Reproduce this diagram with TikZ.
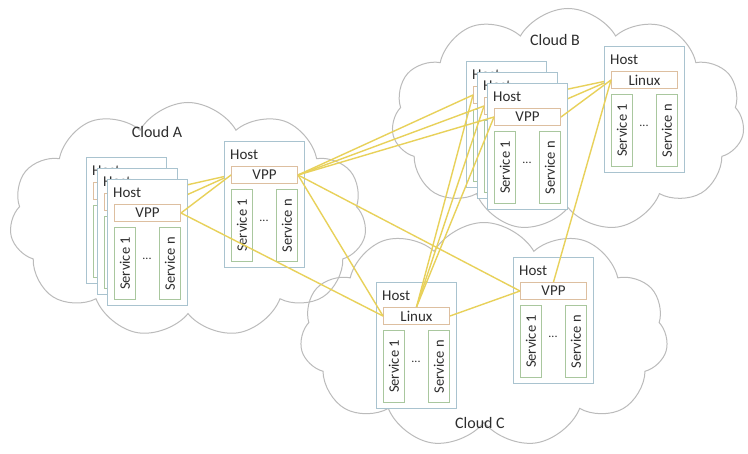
\documentclass[tikz,border=0pt]{standalone}
\usepackage{fontspec}
\setmainfont{Carlito}
\usetikzlibrary{shapes.symbols,calc}
\pgfdeclarelayer{cloudlayer}
\pgfdeclarelayer{linelayer}
\pgfsetlayers{cloudlayer,linelayer,main}
\definecolor{hostc}{HTML}{A9C3CF}
\definecolor{vppc}{HTML}{DDBFA0}
\definecolor{svcc}{HTML}{A9C79E}
\definecolor{linkc}{HTML}{E8D15A}
\definecolor{cloudc}{HTML}{BBBBBB}
\definecolor{txtc}{HTML}{2E2E2E}
\tikzset{
 hostbox/.style={draw=hostc, line width=1.2pt, fill=white, minimum width=80pt, minimum height=126pt, inner sep=0pt, anchor=north west},
 ifbox/.style={draw=vppc, line width=1pt, fill=white, minimum width=66pt, minimum height=17pt, inner sep=0pt, anchor=north west, font=\fontsize{15}{15}\selectfont, text=txtc},
 svcbox/.style={draw=svcc, line width=1pt, fill=white, minimum width=21pt, minimum height=72pt, inner sep=0pt, anchor=north west},
 svctext/.style={rotate=90, font=\fontsize{14.5}{14.5}\selectfont, text=txtc, inner sep=0pt},
 hostlabel/.style={anchor=west, font=\fontsize{15}{15}\selectfont, text=txtc, inner sep=0pt},
 dotstext/.style={font=\fontsize{12}{12}\selectfont, text=txtc, inner sep=0pt},
 link/.style={draw=linkc, line width=1.4pt},
 cloudshape/.style={cloud, draw=cloudc, line width=1pt, cloud puffs=11, cloud puff arc=120, cloud ignores aspect, inner sep=0pt},
 cloudlabel/.style={font=\fontsize{16}{16}\selectfont, text=txtc, inner sep=0pt}
}
\newcommand{\hostunit}[4]{%
 \node[hostbox] (#1) at (#2,#3) {};
 \node[hostlabel] (#1-l) at ($(#1.north west)+(6,14)$) {Host};
 \node[ifbox] (#1-v) at ($(#1.north west)+(7,25)$) {#4};
 \node[svcbox] (#1-s1) at ($(#1.north west)+(7,48)$) {};
 \node[svcbox] (#1-sn) at ($(#1.north west)+(52,48)$) {};
 \node[svctext] (#1-t1) at (#1-s1.center) {Service 1};
 \node[svctext] (#1-tn) at (#1-sn.center) {Service n};
 \node[dotstext] (#1-d) at ($(#1.north west)+(40,80)$) {...};
}
\begin{document}
\begin{tikzpicture}[x=1pt,y=-1pt]
\useasboundingbox (0,0) rectangle (748,454);
\begin{pgfonlayer}{cloudlayer}
 \fill[white] (0,0) rectangle (748,454);
 \node[cloudshape, minimum width=357pt, minimum height=235pt] (cloudA) at (188,220) {};
 \node[cloudshape, minimum width=353pt, minimum height=223pt] (cloudB) at (568,120) {};
 \node[cloudshape, minimum width=368pt, minimum height=225pt] (cloudC) at (484,335) {};
\end{pgfonlayer}
\node[cloudlabel] (labA) at (157,132) {Cloud A};
\node[cloudlabel] (labB) at (555,40) {Cloud B};
\node[cloudlabel] (labC) at (480,423) {Cloud C};
% hosts, back to front
\hostunit{aback}{86}{157}{VPP}
\hostunit{amid}{97}{168}{VPP}
\hostunit{afront}{107}{179}{VPP}
\hostunit{ahost}{224}{141}{VPP}
\hostunit{bback}{466}{61}{VPP}
\hostunit{bmid}{477}{72}{VPP}
\hostunit{bfront}{487}{83}{VPP}
\hostunit{blinux}{604}{46}{Linux}
\hostunit{clinux}{376}{282}{Linux}
\hostunit{cvpp}{513}{257}{VPP}
% links hidden behind stacked hosts
\begin{pgfonlayer}{linelayer}
 \draw[link] (aback-v.east) -- (ahost-v.west);
 \draw[link] (amid-v.east) -- (ahost-v.west);
 \draw[link] (bback-v.east) -- (blinux-v.west);
 \draw[link] (bmid-v.east) -- (blinux-v.west);
\end{pgfonlayer}
% visible links
\draw[link] (afront-v.east) -- (ahost-v.west);
\draw[link] (afront-v.east) -- (clinux-v.west);
\draw[link] (ahost-v.east) -- (bback-v.west);
\draw[link] (ahost-v.east) -- (bmid-v.west);
\draw[link] (ahost-v.east) -- (bfront-v.west);
\draw[link] (ahost-v.east) -- (clinux-v.west);
\draw[link] (ahost-v.east) -- (cvpp-v.west);
\draw[link] (clinux-v.north) -- (bback-v.west);
\draw[link] (clinux-v.north) -- (bmid-v.west);
\draw[link] (clinux-v.north) -- (bfront-v.west);
\draw[link] (clinux-v.east) -- (cvpp-v.west);
\draw[link] (cvpp-v.north) -- (blinux-v.west);
\draw[link] (bfront-v.east) -- (blinux-v.west);
\end{tikzpicture}
\end{document}
